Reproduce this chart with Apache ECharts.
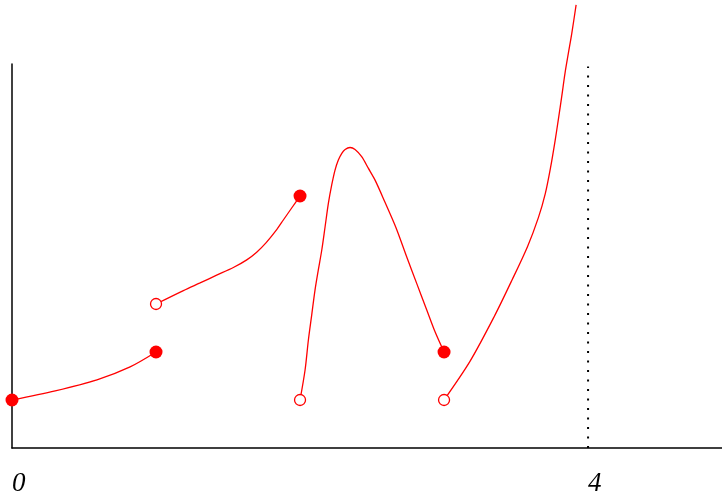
<!DOCTYPE html>
<html>
<head>
<meta charset="utf-8">
<script src="https://cdn.jsdelivr.net/npm/echarts@6/dist/echarts.min.js"></script>
<style>html,body{margin:0;padding:0;background:#fff}#c{width:722px;height:503px}</style>
</head>
<body>
<div id="c"></div>
<script>
// Piece 1
var piece1 = [[0, 1.0], [0.3, 1.19], [0.59, 1.42], [0.82, 1.69], [1, 2.0]];
// Piece 2
var piece2 = [[1, 3.0], [1.19, 3.28], [1.306, 3.44], [1.421, 3.60], [1.537, 3.76], [1.63, 3.92], [1.699, 4.08], [1.765, 4.28], [1.838, 4.55], [1.884, 4.75], [1.942, 5.0], [2, 5.25]];
// Piece 3
var piece3 = [[2, 1.0], [2.035, 1.625], [2.058, 2.25], [2.081, 2.77], [2.104, 3.29], [2.127, 3.71], [2.151, 4.125], [2.174, 4.61], [2.197, 5.10], [2.22, 5.48], [2.243, 5.79], [2.266, 6.0], [2.29, 6.14], [2.313, 6.22], [2.347, 6.26], [2.382, 6.22], [2.428, 6.07], [2.474, 5.83], [2.521, 5.58], [2.59, 5.12], [2.665, 4.6], [2.741, 3.98], [2.81, 3.43], [2.88, 2.875], [2.9375, 2.42], [3, 2.0]];
// Piece 4
var piece4 = [[3, 1.0], [3.181, 1.81], [3.347, 2.73], [3.472, 3.5], [3.58, 4.2], [3.655, 4.8], [3.703, 5.3], [3.74, 5.85], [3.771, 6.4], [3.794, 6.85], [3.817, 7.32], [3.84, 7.81], [3.863, 8.22], [3.887, 8.64], [3.917, 9.23]];
var closedPts = [[0, 1.0], [1, 2.0], [2, 5.25], [3, 2.0]];
var openPts = [[1, 3.0], [2, 1.0], [3, 1.0]];
var asymptote = [[4, 0], [4, 7.95]];
var xTickLabels = {0: '0', 4: '4'};

var chart = echarts.init(document.getElementById('c'));
function piece(d) {
  return {type: 'line', data: d, smooth: 0.3, showSymbol: false, clip: false, z: 2,
    lineStyle: {color: '#ff0000', width: 1.3}};
}
chart.setOption({
  animation: false,
  backgroundColor: '#fff',
  grid: {left: 12, right: 0, top: 64, bottom: 55},
  xAxis: {type: 'value', min: 0, max: 4.93, interval: 4,
    axisLine: {lineStyle: {color: '#000', width: 1.5}},
    axisTick: {show: false}, splitLine: {show: false},
    axisLabel: {showMaxLabel: false, align: 'left', margin: 22,
      formatter: function(v){ return xTickLabels[v] || ''; },
      fontFamily: 'Liberation Serif', fontStyle: 'italic', fontSize: 27, color: '#000'}},
  yAxis: {type: 'value', min: 0, max: 8,
    axisLine: {show: true, lineStyle: {color: '#000', width: 1.5}},
    axisTick: {show: false}, splitLine: {show: false}, axisLabel: {show: false}},
  series: [
    piece(piece1), piece(piece2), piece(piece3), piece(piece4),
    {type: 'line', data: asymptote, showSymbol: false, z: 1,
      lineStyle: {color: '#000', width: 2, type: [2, 7.5]}},
    {type: 'scatter', data: closedPts, symbol: 'circle', symbolSize: 13, z: 5,
      itemStyle: {color: '#ff0000', opacity: 1}},
    {type: 'scatter', data: openPts, symbol: 'circle', symbolSize: 11, z: 5,
      itemStyle: {color: '#fff', borderColor: '#ff0000', borderWidth: 1.3, opacity: 1}}
  ]
});
</script>
</body>
</html>
